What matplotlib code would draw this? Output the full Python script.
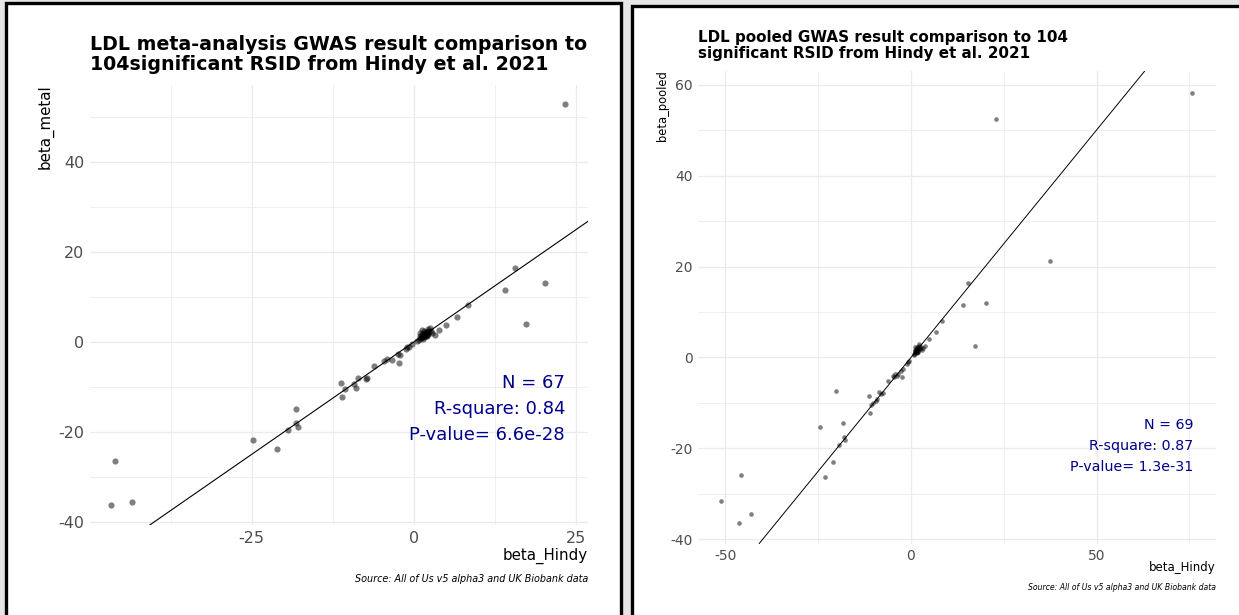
import matplotlib
matplotlib.use("Agg")
import matplotlib.pyplot as plt
from matplotlib.patches import Rectangle
from matplotlib.ticker import MultipleLocator

plt.rcParams["axes.unicode_minus"] = False

# ---------------- data ----------------
# Left panel: meta-analysis (beta_metal) vs Hindy
metal_hindy = [23.3, -46.1, -46.6, -43.4, -24.8, -21.1, -19.4, -18.2, -18.2, -17.9,
               15.6, 14.0, 20.2, 17.3,
               -11.27, -11.06, -10.65, -9.26, -9.0, -8.6, -7.45, -7.2, -6.17, -4.63,
               -4.2, -3.35, -2.42, -2.16, -2.27, -1.23, -0.77, 1.19, 1.59, 2.2,
               1.96, 3.24, 3.81, 4.94, 6.59, 8.29,
               0.9, 1.0, 1.1, 1.2, 1.3, 1.4, 1.5, 1.5, 1.6, 1.7, 1.8, 1.8, 1.9, 2.0,
               2.1, 2.2, 2.3, 2.4, 1.2, 1.0, 0.7, 0.5, 2.6, 2.8, 1.4, -0.3, -1.0]
metal_beta = [52.9, -26.4, -36.2, -35.6, -21.8, -23.8, -19.6, -14.9, -18.0, -18.9,
              16.4, 11.6, 13.1, 4.0,
              -9.18, -12.2, -10.4, -9.3, -10.2, -8.0, -8.3, -8.1, -5.4, -4.16,
              -3.8, -4.07, -2.73, -2.96, -4.6, -1.56, -1.1, 1.04, 2.44, 2.96,
              1.56, 1.63, 2.6, 3.78, 5.49, 8.2,
              0.8, 1.2, 0.9, 1.5, 1.1, 1.8, 1.3, 2.0, 1.0, 1.6, 2.2, 1.2, 1.9, 1.4,
              2.5, 1.8, 2.1, 3.1, 2.6, 1.9, 0.5, 0.3, 2.4, 2.0, 0.7, -0.5, -1.2]

# Right panel: pooled (beta_pooled) vs Hindy
pooled_hindy = [75.7, 37.5, 22.9, 15.4, 14.0, 20.2, 17.3, -51.2, -45.9, -46.3,
                -43.2, -24.6, -20.3, -20.9, -23.2, -19.4, -18.3, -18.1, -17.8,
                -11.2, -10.8, -9.1, -8.5, -7.5, -6.1, -4.5, -3.4, -2.3, -2.1,
                -1.2, 1.5, 2.2, 3.8, 3.0, 4.9, 6.7, 8.3,
                -11.0, -10.3, -9.5, -8.0, -4.8, -4.2, -3.8, -2.6, -0.8, -0.5,
                0.9, 1.0, 1.1, 1.2, 1.3, 1.4, 1.5, 1.6, 1.6, 1.7, 1.8, 1.8, 1.9,
                2.0, 2.1, 2.3, 2.4, 1.2, 1.0, 0.7, 2.6, 3.2]
pooled_beta = [58.2, 21.3, 52.5, 16.3, 11.6, 11.9, 2.6, -31.6, -25.8, -36.3,
               -34.5, -15.2, -7.4, -22.9, -26.2, -19.2, -14.5, -17.4, -18.2,
               -8.4, -10.5, -9.1, -7.5, -7.8, -5.2, -4.2, -3.6, -4.3, -2.5,
               -1.4, 1.9, 3.0, 2.6, 1.7, 4.0, 5.6, 8.1,
               -12.1, -9.9, -9.6, -8.0, -4.0, -3.7, -4.0, -2.9, -1.0, -0.8,
               0.8, 1.2, 0.9, 1.5, 1.1, 1.8, 1.3, 2.3, 1.0, 1.6, 2.2, 1.2, 1.9,
               1.4, 2.6, 1.8, 2.1, 2.4, 1.7, 0.6, 2.4, 2.0]

left_title = "LDL meta-analysis GWAS result comparison to\n104significant RSID from Hindy et al. 2021"
right_title = "LDL pooled GWAS result comparison to 104\nsignificant RSID from Hindy et al. 2021"
left_stats = ["N = 67", "R-square: 0.84", "P-value= 6.6e-28"]
right_stats = ["N = 69", "R-square: 0.87", "P-value= 1.3e-31"]
caption = "Source: All of Us v5 alpha3 and UK Biobank data"

# ---------------- figure ----------------
W, H = 1239, 615
fig = plt.figure(figsize=(W / 100, H / 100), dpi=100)
fig.patch.set_facecolor("#e5e5e5")


def fx(x):
    return x / W


def fy(y):
    return 1 - y / H


# panel backgrounds with black borders (drawn beneath the axes)
fig.patches.append(Rectangle((fx(6), fy(640)), fx(621) - fx(6), fy(3) - fy(640),
                             transform=fig.transFigure, facecolor="white",
                             edgecolor="black", linewidth=2.4, zorder=-5))
fig.patches.append(Rectangle((fx(632), fy(640)), fx(1260) - fx(632), fy(6) - fy(640),
                             transform=fig.transFigure, facecolor="white",
                             edgecolor="black", linewidth=2.4, zorder=-5))

TICK_COL = "#4d4d4d"
GRID_COL = "#ebebeb"
STAT_COL = "#00008b"


def make_axes(l, r, t, b):
    ax = fig.add_axes([fx(l), fy(b), fx(r) - fx(l), fy(t) - fy(b)])
    ax.set_facecolor("none")
    ax.set_zorder(1)
    for s in ax.spines.values():
        s.set_visible(False)
    return ax


def style(ax, xmaj, ymaj, labelsize, pad):
    ax.xaxis.set_major_locator(MultipleLocator(xmaj))
    ax.xaxis.set_minor_locator(MultipleLocator(xmaj / 2))
    ax.yaxis.set_major_locator(MultipleLocator(ymaj))
    ax.yaxis.set_minor_locator(MultipleLocator(ymaj / 2))
    ax.grid(which="major", color=GRID_COL, linewidth=0.9, zorder=0)
    ax.grid(which="minor", color=GRID_COL, linewidth=0.55, zorder=0)
    ax.set_axisbelow(True)
    ax.tick_params(which="both", length=0, labelsize=labelsize, labelcolor=TICK_COL, pad=pad)


# ---------- left panel ----------
axL = make_axes(90, 588, 85, 525)
axL.scatter(metal_hindy, metal_beta, s=20, color="black", alpha=0.5, linewidths=0, zorder=3)
axL.axline((0, 0), slope=1, color="black", linewidth=0.8, zorder=2)
axL.set_xlim(-49.9, 26.8)
axL.set_ylim(-40.7, 57.1)
style(axL, 25, 20, 11.5, 4)

fig.text(fx(90), fy(35), left_title, ha="left", va="top", fontsize=13.65,
         fontweight="bold", linespacing=1.05)
fig.text(fx(46), fy(84), "beta_metal", rotation=90, ha="center", va="top", fontsize=10.8)
fig.text(fx(588), fy(548), "beta_Hindy", ha="right", va="top", fontsize=10.8)
fig.text(fx(588), fy(574), caption, ha="right", va="top", fontsize=6.95, style="italic")
for txt, yb in zip(left_stats, [388, 414, 440]):
    fig.text(fx(565), fy(yb), txt, ha="right", va="baseline", fontsize=13, color=STAT_COL)

# ---------- right panel ----------
axR = make_axes(698, 1216, 70.5, 543.5)
axR.scatter(pooled_hindy, pooled_beta, s=11, color="black", alpha=0.5, linewidths=0, zorder=3)
axR.axline((0, 0), slope=1, color="black", linewidth=0.7, zorder=2)
axR.set_xlim(-57.4, 82.2)
axR.set_ylim(-40.9, 63.1)
style(axR, 50, 20, 10, 4)

fig.text(fx(698), fy(30), right_title, ha="left", va="top", fontsize=10.9,
         fontweight="bold", linespacing=1.05)
fig.text(fx(663), fy(70.5), "beta_pooled", rotation=90, ha="center", va="top", fontsize=8.3)
fig.text(fx(1216), fy(561), "beta_Hindy", ha="right", va="top", fontsize=8.5)
fig.text(fx(1216), fy(583), caption, ha="right", va="top", fontsize=5.55, style="italic")
for txt, yb in zip(right_stats, [429, 450, 471]):
    fig.text(fx(1193), fy(yb), txt, ha="right", va="baseline", fontsize=10.3, color=STAT_COL)

fig.savefig("out.png", dpi=100, facecolor=fig.get_facecolor())
